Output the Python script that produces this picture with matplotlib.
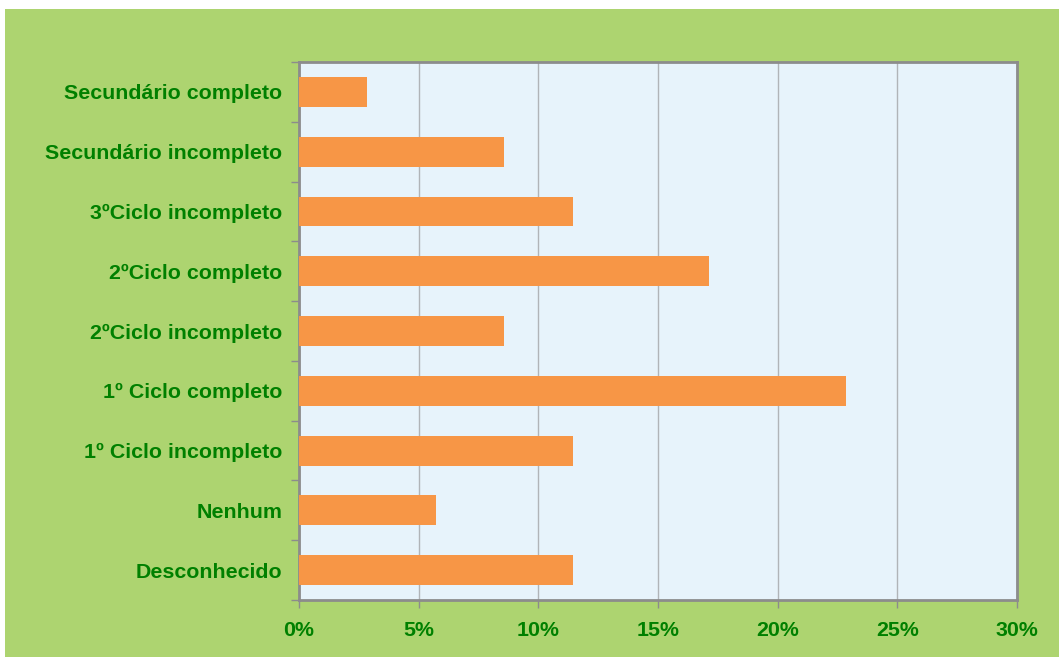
import matplotlib.pyplot as plt
from matplotlib import ticker as mticker
from matplotlib.patches import Rectangle
import numpy as np

categories = [
  "Secundário completo",
  "Secundário incompleto",
  "3ºCiclo incompleto",
  "2ºCiclo completo",
  "2ºCiclo incompleto",
  "1º Ciclo completo",
  "1º Ciclo incompleto",
  "Nenhum",
  "Desconhecido",
]
shares = [2.86, 8.57, 11.43, 17.14, 8.57, 22.86, 11.43, 5.71, 11.43]
x_ticks = [0, 5, 10, 15, 20, 25, 30]

W, H = 1059, 657
green_bg = "#add470"
plot_bg = "#e7f3fb"
bar_color = "#f79646"
text_color = "#008000"
axis_gray = "#8c8c8c"

plt.rcParams["font.family"] = ["Liberation Sans", "DejaVu Sans"]

fig = plt.figure(figsize=(W / 100, H / 100), dpi=100)
fig.patch.set_facecolor("white")
fig.patches.append(Rectangle((5 / W, 0), 1 - 5 / W, 1 - 9 / H,
                             transform=fig.transFigure, facecolor=green_bg,
                             edgecolor="none", zorder=-10))

left, right, top, bottom = 299, 1017, 62, 600
ax = fig.add_axes([left / W, 1 - bottom / H, (right - left) / W, (bottom - top) / H])
ax.set_facecolor(plot_bg)

y = np.arange(len(categories))
ax.barh(y, shares, height=0.5, color=bar_color, zorder=3)
ax.set_ylim(len(categories) - 0.5, -0.5)
ax.set_xlim(0, 30)

ax.set_xticks(x_ticks)
ax.xaxis.set_major_formatter(mticker.FuncFormatter(lambda v, _: f"{v:.0f}%"))
ax.set_yticks(y)
ax.set_yticklabels(categories)
ax.set_yticks(np.arange(len(categories) + 1) - 0.5, minor=True)

ax.tick_params(axis="y", which="major", length=0, pad=12)
ax.tick_params(axis="y", which="minor", length=6, color=axis_gray, width=1)
ax.tick_params(axis="x", which="major", length=6, color=axis_gray, width=1, pad=9)
for lab in ax.get_xticklabels() + ax.get_yticklabels():
  lab.set_color(text_color)
  lab.set_fontweight("bold")
  lab.set_fontsize(15.4)

ax.grid(axis="x", color="#b0b4b8", linewidth=1, zorder=1)
for spine in ax.spines.values():
  spine.set_color(axis_gray)
  spine.set_linewidth(2)

fig.savefig("out.png", dpi=100, facecolor=fig.get_facecolor())
